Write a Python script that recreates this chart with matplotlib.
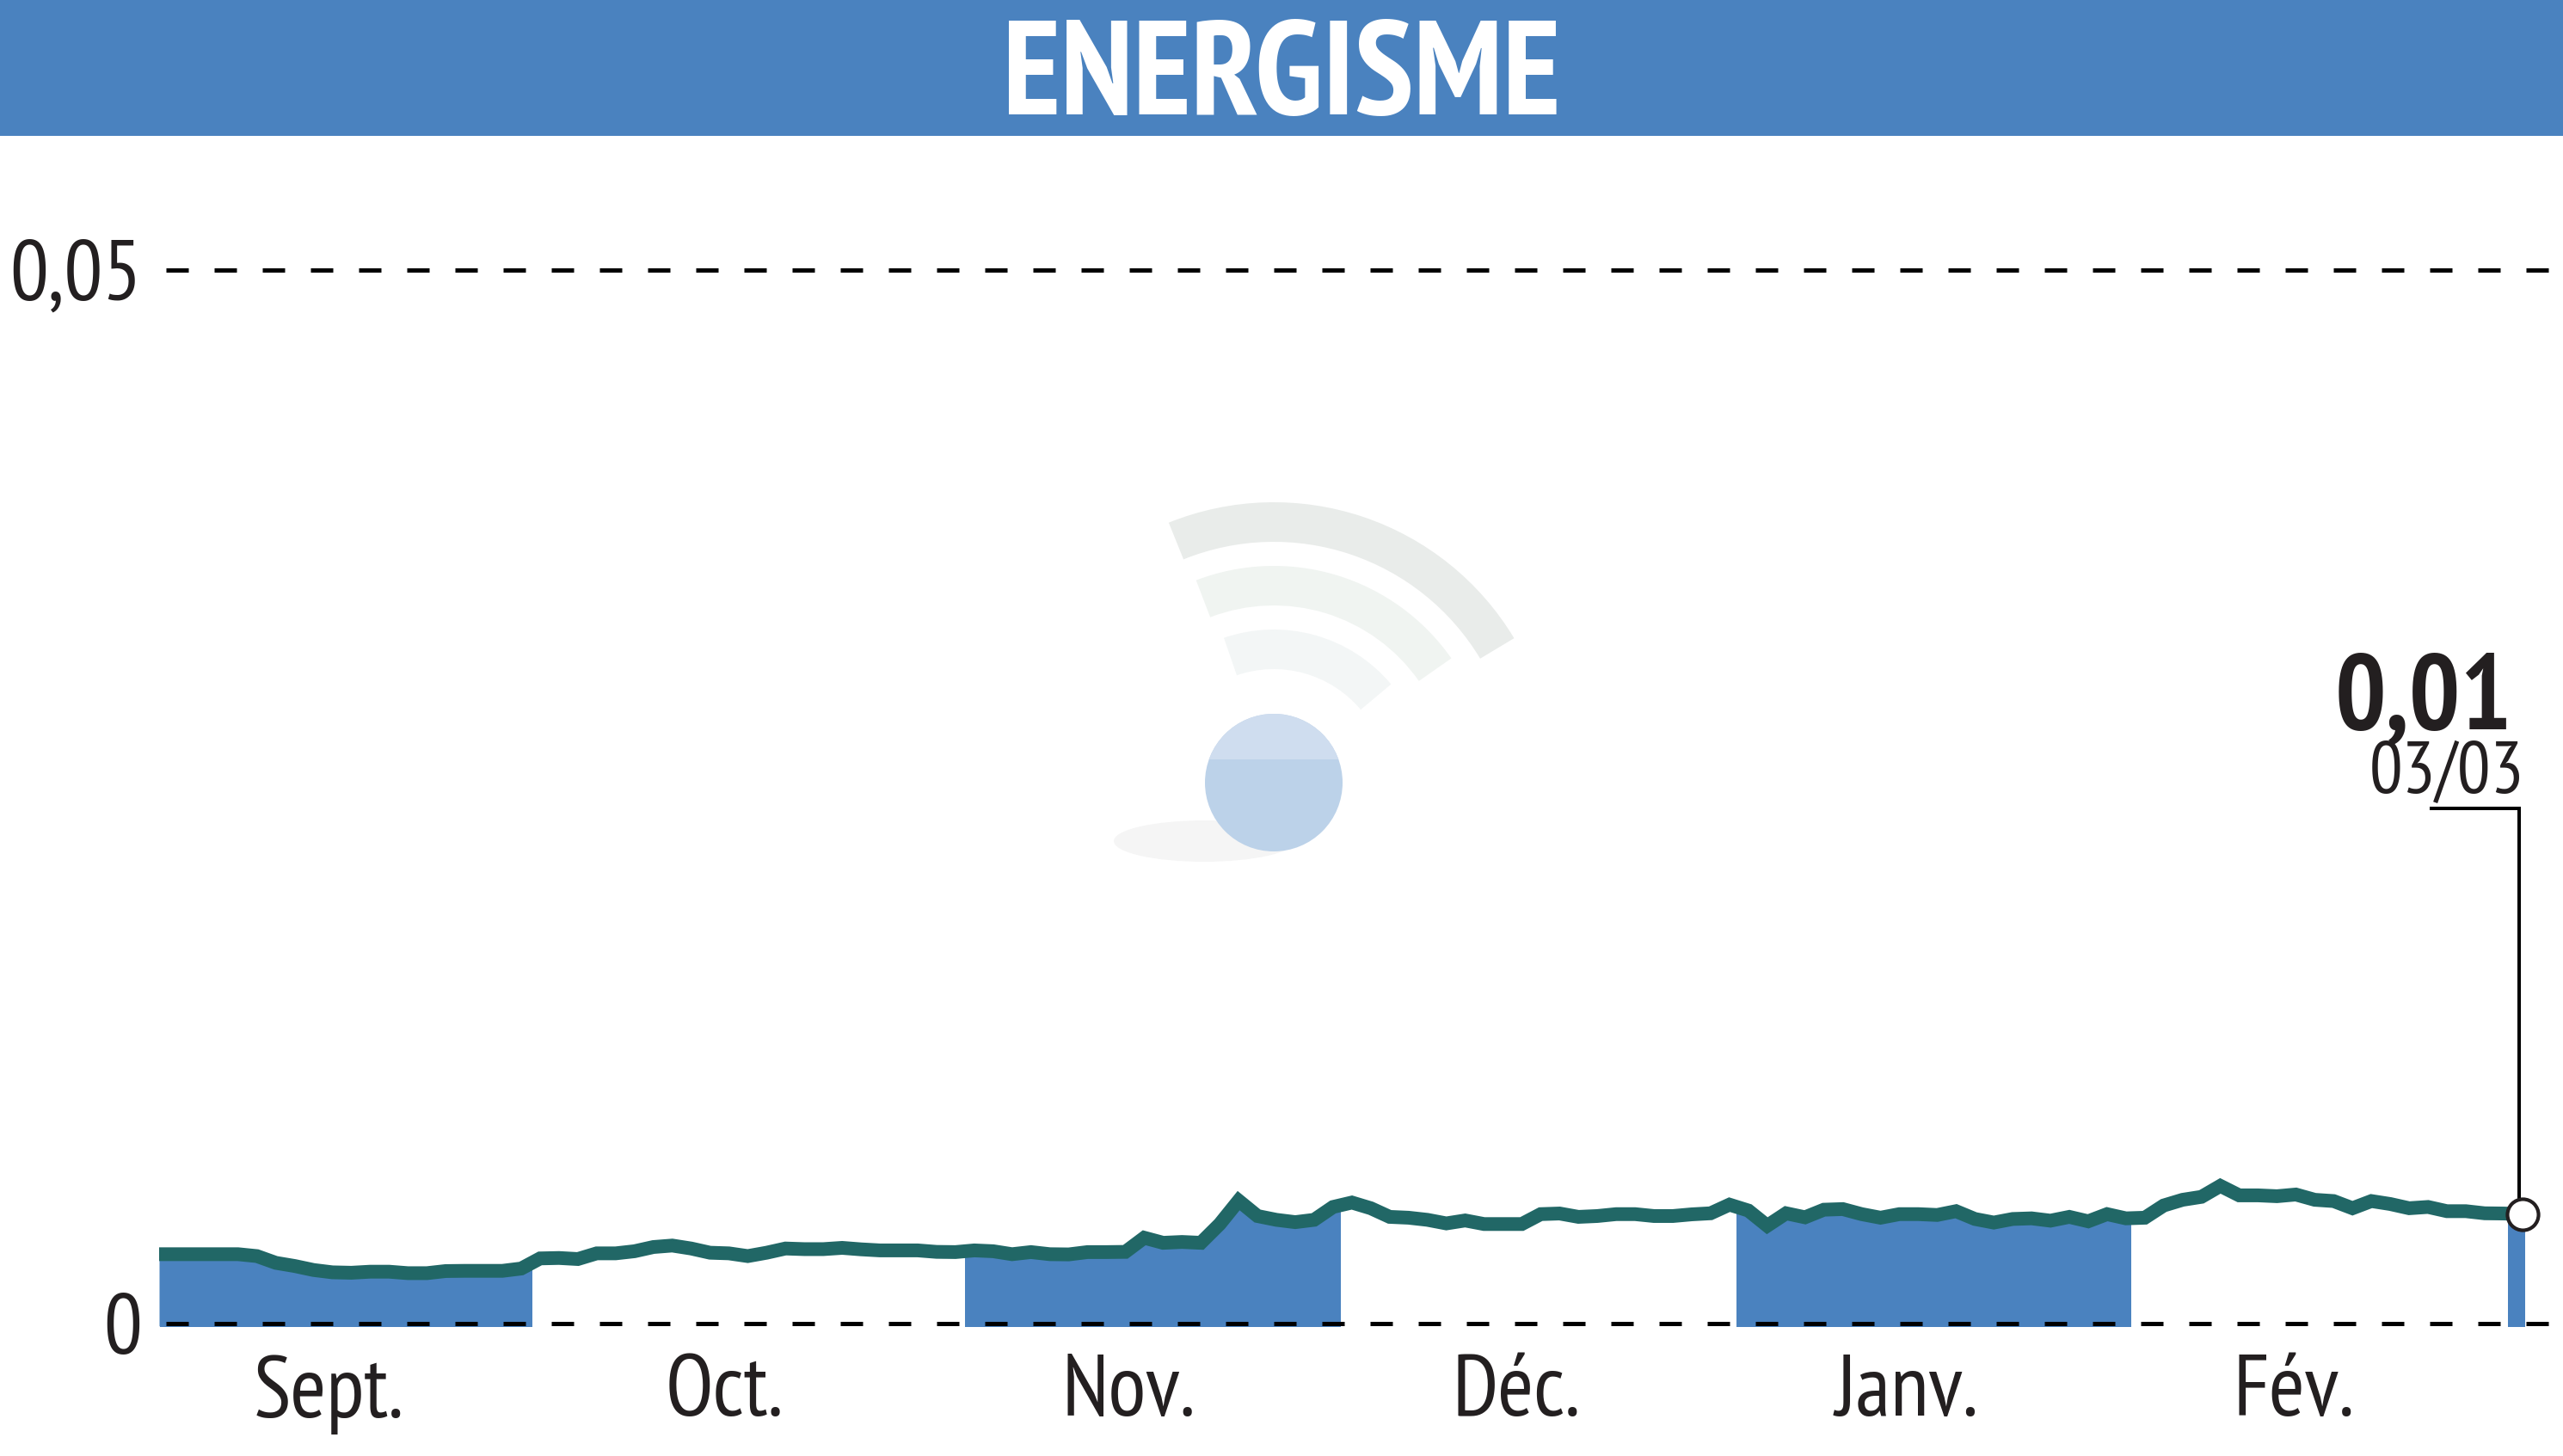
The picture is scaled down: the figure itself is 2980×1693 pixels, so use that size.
import numpy as np
import matplotlib
matplotlib.use("Agg")
import matplotlib.pyplot as plt
from matplotlib.patches import Rectangle, Wedge, Circle, Ellipse
from matplotlib.path import Path

# daily closing price per month, in thousandths of a euro
sept = [3.31, 3.31, 3.31, 3.31, 3.31, 3.22, 2.90, 2.75, 2.56, 2.45, 2.43, 2.48, 2.48, 2.41, 2.41, 2.51, 2.52, 2.52, 2.52, 2.63]
oct_ = [3.11, 3.13, 3.08, 3.35, 3.35, 3.45, 3.65, 3.72, 3.58, 3.38, 3.35, 3.22, 3.38, 3.58, 3.55, 3.55, 3.61, 3.54, 3.49, 3.49, 3.49, 3.42, 3.41]
nov = [3.49, 3.45, 3.31, 3.41, 3.31, 3.30, 3.41, 3.41, 3.42, 4.09, 3.85, 3.89, 3.85, 4.74, 5.85, 5.12, 4.94, 4.83, 4.94, 5.55]
dec = [5.76, 5.49, 5.08, 5.04, 4.94, 4.77, 4.91, 4.74, 4.74, 4.74, 5.21, 5.24, 5.08, 5.12, 5.21, 5.21, 5.12, 5.12, 5.20, 5.25, 5.66]
janv = [5.38, 4.66, 5.25, 5.06, 5.42, 5.45, 5.21, 5.04, 5.21, 5.21, 5.17, 5.35, 4.98, 4.81, 4.98, 5.01, 4.90, 5.08, 4.87, 5.21, 5.01]
fev = [5.04, 5.62, 5.89, 6.03, 6.55, 6.10, 6.10, 6.06, 6.14, 5.89, 5.83, 5.49, 5.83, 5.69, 5.49, 5.55, 5.35, 5.35, 5.25, 5.24]
mars = [5.21]

month_labels = ["Sept.", "Oct.", "Nov.", "Déc.", "Janv.", "Fév."]
month_label_pos = [8.8, 29.75, 51.2, 71.7, 92.4, 112.9]
band_edges = [(-0.18, 19.59), (42.5, 62.41), (83.37, 104.3), (124.24, 125.15)]

BLUE = "#4a82bf"
GREEN = "#216766"
INK = "#231f20"
NARROW = ["PT Sans Narrow", "Liberation Sans"]

values = np.array(sept + oct_ + nov + dec + janv + fev + mars)
days = np.arange(len(values))

W, H = 2980, 1693
fig = plt.figure(figsize=(W / 100, H / 100), dpi=100, facecolor="white")

# faded logo behind the chart, in pixel coordinates
logo = fig.add_axes([0, 0, 1, 1])
logo.set_xlim(0, W)
logo.set_ylim(H, 0)
logo.axis("off")
cx, cy = 1481, 910
for r, t1, t2, col in [(326, 31, 112, "#e9ecea"), (252, 35, 111, "#f0f4f1"), (178, 40, 109, "#f3f6f6")]:
    logo.add_patch(Wedge((cx, cy), r, -t2, -t1, width=46, fc=col, ec="none"))
logo.add_patch(Ellipse((1400, 978), 210, 48, fc="#f5f5f5", ec="none"))
ball = Circle((cx, cy), 80, fc="#bcd2e9", ec="none")
logo.add_patch(ball)
top = Rectangle((cx - 80, cy - 80), 160, 53, fc="#cfddef", ec="none")
logo.add_patch(top)
top.set_clip_path(ball)

# header band
fig.add_artist(Rectangle((0, 1 - 158 / H), 1, 158 / H, transform=fig.transFigure, fc=BLUE, ec="none"))
fig.text(0.5, 1 - 133 / H, "ENERGISME", color="white", fontsize=112.5, fontweight="bold",
         family=NARROW, ha="center", va="baseline")

# axes placed so that 0 and 0,05 fall on the reference lines
ax = fig.add_axes([185 / W, (H - 1541.7) / H, (W - 185) / W, (1541.7 - 158) / H])
ax.patch.set_alpha(0)
ax.set_xlim(-0.18, 127.15)
ax.set_ylim(-0.09, 56.35)
for s in ax.spines.values():
    s.set_visible(False)

# filled price area, only shown on every other month
fill_x = np.r_[band_edges[0][0], days, band_edges[-1][1]]
fill_y = np.r_[values[0], values, values[-1]]
area = ax.fill_between(fill_x, -0.09, fill_y, color=BLUE, lw=0, zorder=1)
rects = [Path([(a, -1), (b, -1), (b, 60), (a, 60), (a, -1)]) for a, b in band_edges]
area.set_clip_path(Path.make_compound_path(*rects), ax.transData)

ax.plot(days, values, color=GREEN, lw=11.5, solid_joinstyle="miter", zorder=3)

ax.set_yticks([0, 50], ["0", "0,05"], family=NARROW, fontsize=72, color=INK)
ax.set_xticks(month_label_pos, month_labels, family=NARROW, fontsize=73, color=INK)
ax.tick_params(axis="both", length=0)
ax.tick_params(axis="x", pad=24)
ax.tick_params(axis="y", pad=14.5)
ax.grid(axis="y", color="black", lw=3.6, linestyle=(9.6, (5.2, 6)))
ax.set_axisbelow(False)

# last value callout
ax.plot([120.18, 124.83, 124.83], [24.45, 24.45, values[-1]], color="black", lw=2.9,
        solid_joinstyle="miter", zorder=4, clip_on=False)
ax.plot(days[-1], values[-1], "o", ms=26, mfc="white", mec=INK, mew=3, zorder=5)
ax.text(124.46, 28.2, "0,01", family=NARROW, fontweight="bold", fontsize=90, color=INK, ha="right", va="baseline")
ax.text(125.1, 25.2, "03/03", family=NARROW, fontsize=62, color=INK, ha="right", va="baseline")

fig.savefig("out.png", dpi=100)
